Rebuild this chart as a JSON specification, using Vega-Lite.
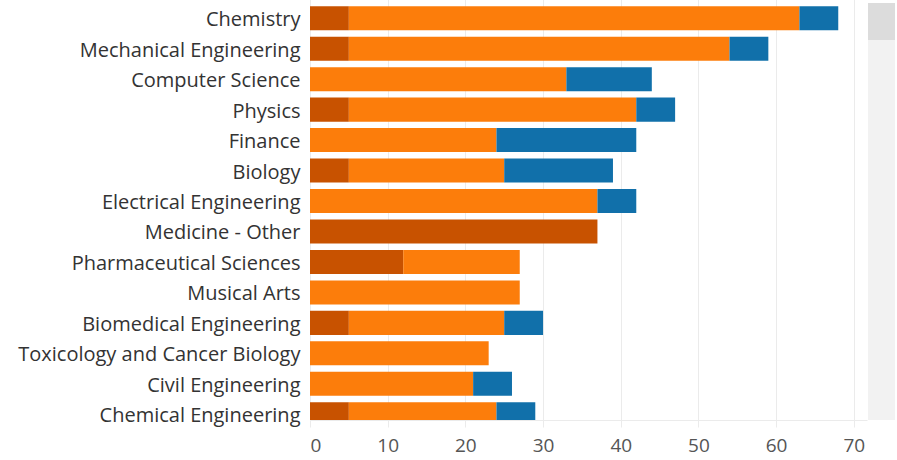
{
  "$schema": "https://vega.github.io/schema/vega-lite/v6.json",
  "padding": {"left": 17, "top": 3, "right": 2, "bottom": 5},
  "background": "white",
  "spacing": 1,
  "config": {"view": {"stroke": null}, "font": "Open Sans", "concat": {"spacing": 1}},
  "hconcat": [
    {
      "width": 557,
      "height": 417,
      "data": {"values": [
        {"major": "Chemistry", "level": "Doctoral", "ord": 1, "value": 5},
        {"major": "Chemistry", "level": "Master's", "ord": 2, "value": 58},
        {"major": "Chemistry", "level": "Bachelor's", "ord": 3, "value": 5},
        {"major": "Mechanical Engineering", "level": "Doctoral", "ord": 1, "value": 5},
        {"major": "Mechanical Engineering", "level": "Master's", "ord": 2, "value": 49},
        {"major": "Mechanical Engineering", "level": "Bachelor's", "ord": 3, "value": 5},
        {"major": "Computer Science", "level": "Master's", "ord": 2, "value": 33},
        {"major": "Computer Science", "level": "Bachelor's", "ord": 3, "value": 11},
        {"major": "Physics", "level": "Doctoral", "ord": 1, "value": 5},
        {"major": "Physics", "level": "Master's", "ord": 2, "value": 37},
        {"major": "Physics", "level": "Bachelor's", "ord": 3, "value": 5},
        {"major": "Finance", "level": "Master's", "ord": 2, "value": 24},
        {"major": "Finance", "level": "Bachelor's", "ord": 3, "value": 18},
        {"major": "Biology", "level": "Doctoral", "ord": 1, "value": 5},
        {"major": "Biology", "level": "Master's", "ord": 2, "value": 20},
        {"major": "Biology", "level": "Bachelor's", "ord": 3, "value": 14},
        {"major": "Electrical Engineering", "level": "Master's", "ord": 2, "value": 37},
        {"major": "Electrical Engineering", "level": "Bachelor's", "ord": 3, "value": 5},
        {"major": "Medicine - Other", "level": "Doctoral", "ord": 1, "value": 37},
        {"major": "Pharmaceutical Sciences", "level": "Doctoral", "ord": 1, "value": 12},
        {"major": "Pharmaceutical Sciences", "level": "Master's", "ord": 2, "value": 15},
        {"major": "Musical Arts", "level": "Master's", "ord": 2, "value": 27},
        {"major": "Biomedical Engineering", "level": "Doctoral", "ord": 1, "value": 5},
        {"major": "Biomedical Engineering", "level": "Master's", "ord": 2, "value": 20},
        {"major": "Biomedical Engineering", "level": "Bachelor's", "ord": 3, "value": 5},
        {"major": "Toxicology and Cancer Biology", "level": "Master's", "ord": 2, "value": 23},
        {"major": "Civil Engineering", "level": "Master's", "ord": 2, "value": 21},
        {"major": "Civil Engineering", "level": "Bachelor's", "ord": 3, "value": 5},
        {"major": "Chemical Engineering", "level": "Doctoral", "ord": 1, "value": 5},
        {"major": "Chemical Engineering", "level": "Master's", "ord": 2, "value": 19},
        {"major": "Chemical Engineering", "level": "Bachelor's", "ord": 3, "value": 5}
      ]},
      "mark": {"type": "bar", "clip": true},
      "encoding": {
        "y": {
          "field": "major", "type": "nominal",
          "sort": ["Chemistry", "Mechanical Engineering", "Computer Science", "Physics", "Finance", "Biology", "Electrical Engineering", "Medicine - Other", "Pharmaceutical Sciences", "Musical Arts", "Biomedical Engineering", "Toxicology and Cancer Biology", "Civil Engineering", "Chemical Engineering"],
          "scale": {"range": [0, 426.5], "paddingInner": 0.21, "paddingOuter": 0.105},
          "axis": {"title": null, "ticks": false, "domain": false, "labelFontSize": 20, "labelColor": "#333333", "labelPadding": 10, "labelLimit": 400, "labelBaseline": "middle", "labelOffset": 2}
        },
        "x": {
          "field": "value", "type": "quantitative", "stack": "zero",
          "scale": {"domain": [0, 71.7], "nice": false},
          "axis": {"title": null, "values": [0, 10, 20, 30, 40, 50, 60, 70], "ticks": true, "tickSize": 7, "tickColor": "#ebebeb", "gridColor": "#ebebeb", "domainColor": "#ebebeb", "labelFontSize": 19, "labelColor": "#555555", "labelPadding": 9}
        },
        "color": {
          "field": "level", "type": "nominal",
          "scale": {"domain": ["Doctoral", "Master's", "Bachelor's"], "range": ["#c85200", "#fc7d0b", "#1170aa"]},
          "legend": null
        },
        "order": {"field": "ord", "type": "quantitative"}
      }
    },
    {
      "width": 27,
      "height": 417,
      "view": {"fill": "#f2f2f2", "stroke": null},
      "data": {"values": [{"start": 0, "end": 14}]},
      "mark": {"type": "rect", "color": "#dcdcdc"},
      "encoding": {
        "y": {"field": "start", "type": "quantitative", "scale": {"domain": [0, 158], "nice": false, "reverse": true, "zero": false}, "axis": null},
        "y2": {"field": "end"}
      }
    }
  ]
}
